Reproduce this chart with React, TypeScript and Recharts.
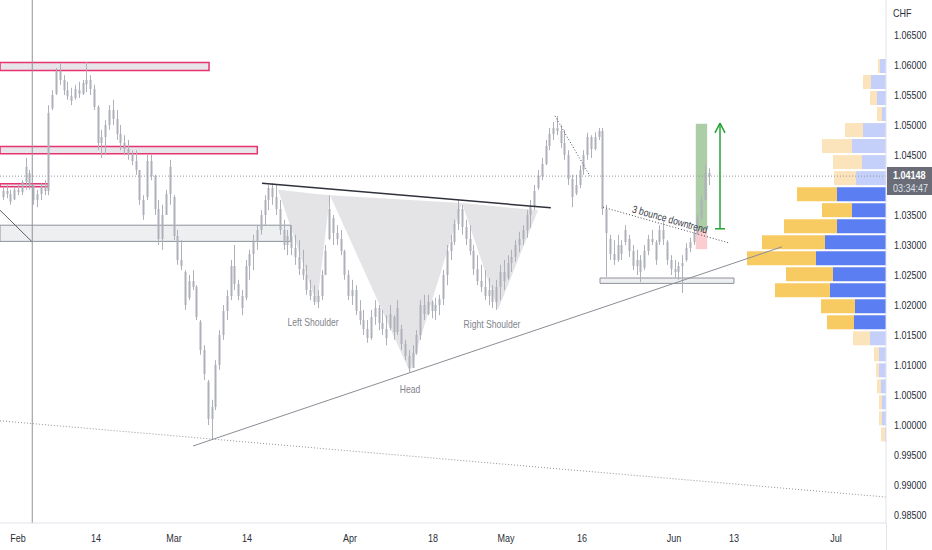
import React from "react";
import {
  ComposedChart,
  BarChart,
  Bar,
  Area,
  Scatter,
  Cell,
  XAxis,
  YAxis,
  ReferenceLine,
  ReferenceArea,
} from "recharts";

const FONT = "'Liberation Sans', Arial, sans-serif";
const SQUEEZE = 0.82; // the screenshot's text is narrow
const CANDLE = "#aeb1b9";

// x = trading days counted from Feb 1, y = EUR/CHF price
const X_MIN = -2.37;
const X_MAX = 114.36;
const Y_MIN = 0.98367;
const Y_MAX = 1.07083;
const PLOT_W = 886;
const PLOT_H = 523;

const tickDays = [0, 10.28, 20.55, 30.17, 43.74, 54.68, 64.3, 74.31, 86.43, 94.33, 107.77];
const tickLabels = ["Feb", "14", "Mar", "14", "Apr", "18", "May", "16", "Jun", "13", "Jul"];
const priceTicks = [0.985, 0.99, 0.995, 1.0, 1.005, 1.01, 1.015, 1.02, 1.025, 1.03, 1.035, 1.045, 1.05, 1.055, 1.06, 1.065];

// 12h candles, first one two days before Feb 1
const FIRST_BAR_DAY = -2;
const BAR_STEP = 0.5;

const opens = [
  1.0380, 1.0390, 1.0385, 1.0376, 1.0392, 1.0388, 1.0405, 1.0420, 1.0398, 1.0375,
  1.0385, 1.0398, 1.0390, 1.0528, 1.0552, 1.0590, 1.0575, 1.0558, 1.0548, 1.0545,
  1.0558, 1.0552, 1.0568, 1.0575, 1.0560, 1.0530, 1.0470, 1.0480, 1.0500, 1.0525,
  1.0510, 1.0485, 1.0470, 1.0460, 1.0450, 1.0440, 1.0425, 1.0375, 1.0380, 1.0440,
  1.0415, 1.0360, 1.0310, 1.0350, 1.0385, 1.0380, 1.0315, 1.0275, 1.0255, 1.0212,
  1.0240, 1.0230, 1.0172, 1.0125, 1.0072, 1.0010, 1.0030, 1.0100, 1.0150, 1.0190,
  1.0215, 1.0265, 1.0235, 1.0215, 1.0212, 1.0265, 1.0285, 1.0305, 1.0325, 1.0350,
  1.0375, 1.0395, 1.0380, 1.0360, 1.0325, 1.0300, 1.0315, 1.0295, 1.0280, 1.0260,
  1.0250, 1.0225, 1.0215, 1.0205, 1.0215, 1.0250, 1.0310, 1.0345, 1.0320, 1.0310,
  1.0290, 1.0250, 1.0215, 1.0225, 1.0190, 1.0175, 1.0160, 1.0145, 1.0180, 1.0195,
  1.0170, 1.0160, 1.0162, 1.0180, 1.0155, 1.0160, 1.0135, 1.0115, 1.0095, 1.0120,
  1.0150, 1.0200, 1.0185, 1.0205, 1.0190, 1.0200, 1.0210, 1.0250, 1.0290, 1.0305,
  1.0335, 1.0360, 1.0330, 1.0310, 1.0290, 1.0260, 1.0240, 1.0230, 1.0215, 1.0225,
  1.0205, 1.0230, 1.0255, 1.0245, 1.0270, 1.0280, 1.0300, 1.0310, 1.0325, 1.0350,
  1.0365, 1.0395, 1.0415, 1.0435, 1.0465, 1.0485, 1.0495, 1.0490, 1.0470, 1.0450,
  1.0410, 1.0386, 1.0400, 1.0425, 1.0450, 1.0480, 1.0460, 1.0480, 1.0490, 1.0360,
  1.0310, 1.0285, 1.0275, 1.0300, 1.0305, 1.0310, 1.0290, 1.0265, 1.0275, 1.0262,
  1.0290, 1.0310, 1.0305, 1.0305, 1.0325, 1.0305, 1.0275, 1.0260, 1.0255, 1.0265,
  1.0275, 1.0295, 1.0305, 1.0320, 1.0345, 1.0375, 1.0420,
];
const highs = [
  1.0395, 1.0400, 1.0392, 1.0397, 1.0400, 1.0408, 1.0445, 1.0425, 1.0400, 1.0392,
  1.0403, 1.0408, 1.0533, 1.0558, 1.0595, 1.0603, 1.0583, 1.0572, 1.0562, 1.0567,
  1.0572, 1.0575, 1.0605, 1.0583, 1.0567, 1.0533, 1.0492, 1.0508, 1.0533, 1.0542,
  1.0525, 1.0500, 1.0483, 1.0475, 1.0458, 1.0458, 1.0425, 1.0383, 1.0450, 1.0450,
  1.0417, 1.0375, 1.0367, 1.0392, 1.0442, 1.0383, 1.0325, 1.0308, 1.0258, 1.0250,
  1.0258, 1.0233, 1.0175, 1.0133, 1.0075, 1.0042, 1.0108, 1.0158, 1.0200, 1.0225,
  1.0275, 1.0300, 1.0242, 1.0225, 1.0275, 1.0292, 1.0317, 1.0333, 1.0358, 1.0383,
  1.0400, 1.0403, 1.0400, 1.0375, 1.0342, 1.0325, 1.0333, 1.0317, 1.0308, 1.0292,
  1.0267, 1.0242, 1.0233, 1.0225, 1.0258, 1.0300, 1.0383, 1.0350, 1.0333, 1.0325,
  1.0292, 1.0258, 1.0242, 1.0233, 1.0208, 1.0192, 1.0175, 1.0192, 1.0208, 1.0200,
  1.0192, 1.0183, 1.0200, 1.0183, 1.0208, 1.0167, 1.0142, 1.0125, 1.0133, 1.0158,
  1.0208, 1.0217, 1.0217, 1.0208, 1.0212, 1.0217, 1.0258, 1.0300, 1.0317, 1.0342,
  1.0375, 1.0367, 1.0342, 1.0333, 1.0300, 1.0283, 1.0267, 1.0258, 1.0245, 1.0233,
  1.0242, 1.0267, 1.0275, 1.0283, 1.0292, 1.0308, 1.0322, 1.0333, 1.0358, 1.0375,
  1.0400, 1.0425, 1.0445, 1.0475, 1.0495, 1.0505, 1.0515, 1.0500, 1.0492, 1.0458,
  1.0417, 1.0417, 1.0433, 1.0458, 1.0487, 1.0483, 1.0488, 1.0495, 1.0495, 1.0367,
  1.0317, 1.0308, 1.0317, 1.0308, 1.0333, 1.0317, 1.0300, 1.0292, 1.0283, 1.0300,
  1.0317, 1.0325, 1.0308, 1.0333, 1.0338, 1.0308, 1.0283, 1.0275, 1.0272, 1.0283,
  1.0303, 1.0312, 1.0325, 1.0350, 1.0383, 1.0433, 1.0428,
];
const lows = [
  1.0375, 1.0378, 1.0367, 1.0375, 1.0383, 1.0383, 1.0392, 1.0392, 1.0367, 1.0363,
  1.0375, 1.0383, 1.0383, 1.0525, 1.0550, 1.0567, 1.0550, 1.0542, 1.0533, 1.0542,
  1.0545, 1.0550, 1.0555, 1.0550, 1.0525, 1.0458, 1.0445, 1.0450, 1.0492, 1.0500,
  1.0475, 1.0458, 1.0450, 1.0442, 1.0433, 1.0417, 1.0367, 1.0342, 1.0375, 1.0408,
  1.0350, 1.0300, 1.0292, 1.0350, 1.0367, 1.0308, 1.0267, 1.0258, 1.0192, 1.0208,
  1.0225, 1.0175, 1.0117, 1.0075, 1.0000, 0.9975, 1.0025, 1.0092, 1.0142, 1.0175,
  1.0208, 1.0225, 1.0208, 1.0183, 1.0208, 1.0242, 1.0258, 1.0292, 1.0317, 1.0333,
  1.0358, 1.0367, 1.0350, 1.0317, 1.0292, 1.0283, 1.0283, 1.0267, 1.0250, 1.0242,
  1.0217, 1.0208, 1.0200, 1.0195, 1.0208, 1.0250, 1.0308, 1.0300, 1.0300, 1.0283,
  1.0242, 1.0208, 1.0200, 1.0183, 1.0167, 1.0150, 1.0137, 1.0142, 1.0167, 1.0158,
  1.0150, 1.0133, 1.0158, 1.0142, 1.0150, 1.0125, 1.0108, 1.0088, 1.0095, 1.0117,
  1.0142, 1.0175, 1.0183, 1.0178, 1.0175, 1.0183, 1.0200, 1.0233, 1.0275, 1.0300,
  1.0325, 1.0317, 1.0300, 1.0283, 1.0250, 1.0233, 1.0222, 1.0208, 1.0200, 1.0195,
  1.0192, 1.0208, 1.0225, 1.0242, 1.0255, 1.0272, 1.0288, 1.0300, 1.0312, 1.0328,
  1.0358, 1.0392, 1.0408, 1.0433, 1.0458, 1.0475, 1.0483, 1.0462, 1.0442, 1.0400,
  1.0363, 1.0383, 1.0395, 1.0417, 1.0442, 1.0445, 1.0458, 1.0475, 1.0350, 1.0247,
  1.0275, 1.0267, 1.0272, 1.0275, 1.0300, 1.0280, 1.0258, 1.0250, 1.0238, 1.0258,
  1.0283, 1.0300, 1.0267, 1.0300, 1.0300, 1.0267, 1.0250, 1.0245, 1.0242, 1.0220,
  1.0272, 1.0288, 1.0300, 1.0317, 1.0342, 1.0375, 1.0400,
];
const closes = [
  1.0390, 1.0385, 1.0372, 1.0392, 1.0388, 1.0405, 1.0430, 1.0398, 1.0375, 1.0385,
  1.0398, 1.0390, 1.0520, 1.0550, 1.0590, 1.0575, 1.0558, 1.0548, 1.0540, 1.0560,
  1.0552, 1.0570, 1.0575, 1.0560, 1.0530, 1.0470, 1.0480, 1.0500, 1.0525, 1.0510,
  1.0485, 1.0470, 1.0460, 1.0450, 1.0440, 1.0425, 1.0375, 1.0350, 1.0440, 1.0415,
  1.0360, 1.0310, 1.0350, 1.0385, 1.0430, 1.0315, 1.0275, 1.0265, 1.0200, 1.0240,
  1.0230, 1.0180, 1.0125, 1.0085, 1.0010, 1.0030, 1.0100, 1.0150, 1.0190, 1.0215,
  1.0265, 1.0235, 1.0215, 1.0195, 1.0265, 1.0285, 1.0305, 1.0325, 1.0350, 1.0375,
  1.0395, 1.0380, 1.0360, 1.0325, 1.0300, 1.0315, 1.0295, 1.0280, 1.0260, 1.0250,
  1.0225, 1.0215, 1.0205, 1.0215, 1.0250, 1.0290, 1.0360, 1.0320, 1.0310, 1.0290,
  1.0250, 1.0215, 1.0225, 1.0190, 1.0175, 1.0160, 1.0145, 1.0180, 1.0195, 1.0170,
  1.0160, 1.0145, 1.0185, 1.0155, 1.0195, 1.0135, 1.0115, 1.0095, 1.0120, 1.0150,
  1.0200, 1.0185, 1.0205, 1.0190, 1.0200, 1.0210, 1.0250, 1.0290, 1.0305, 1.0335,
  1.0360, 1.0330, 1.0310, 1.0290, 1.0260, 1.0240, 1.0230, 1.0215, 1.0225, 1.0205,
  1.0230, 1.0255, 1.0240, 1.0270, 1.0280, 1.0300, 1.0310, 1.0325, 1.0350, 1.0365,
  1.0390, 1.0415, 1.0435, 1.0465, 1.0485, 1.0495, 1.0490, 1.0470, 1.0450, 1.0410,
  1.0380, 1.0400, 1.0425, 1.0450, 1.0480, 1.0460, 1.0480, 1.0490, 1.0360, 1.0320,
  1.0285, 1.0275, 1.0300, 1.0285, 1.0325, 1.0290, 1.0265, 1.0275, 1.0255, 1.0290,
  1.0310, 1.0305, 1.0275, 1.0325, 1.0310, 1.0275, 1.0260, 1.0255, 1.0265, 1.0270,
  1.0295, 1.0305, 1.0320, 1.0345, 1.0375, 1.0420, 1.0415,
];

const lastPrice = 1.04148;
const countdown = "03:34:47";

// head & shoulders drawing: trough points and the neckline level above them
const hsDays = [34.26, 39.39, 41.11, 51.65, 58.5, 63.24, 68.51];
const hsLow = [1.0392, 1.02, 1.0383, 1.0088, 1.037, 1.0192, 1.0358];
const hsNeck = [1.0392, 1.0385, 1.0383, 1.0375, 1.037, 1.0364, 1.0358];

// zones: [fromDay, toDay, low, high]
const pinkZones = [
  [X_MIN, 25.17, 1.0591, 1.0604],
  [X_MIN, 31.53, 1.0452, 1.0464],
  [X_MIN, 4.0, 1.0397, 1.0402],
];
const greyZones = [
  [X_MIN, 35.93, 1.0306, 1.0333],
  [76.68, 94.33, 1.0236, 1.0245],
];
const targetBox = [89.3, 90.8, 1.0324, 1.0502];
const stopBox = [89.3, 90.8, 1.0293, 1.0324];

// trendlines: [day1, price1, day2, price2]
const neckline = [32.15, 1.0403, 70.2, 1.0362];
const risingLine = [23.06, 0.9965, 100.66, 1.0297];
const longDotted = [X_MIN, 1.0007, X_MAX, 0.988];
const bounceLine = [77.08, 1.0363, 93.8, 1.0303];
const mayDotted = [70.75, 1.0515, 75.36, 1.0415];
const febDiagonal = [X_MIN, 1.0358, 1.8, 1.0306];
const febMarkerDay = 1.88;
const arrowSegs = [
  [92.49, 1.0503, 92.49, 1.0327],
  [91.83, 1.0487, 92.49, 1.0503],
  [93.15, 1.0487, 92.49, 1.0503],
  [91.83, 1.0327, 93.15, 1.0327],
];

const noteText = ["Left Shoulder", "Head", "Right Shoulder", "3 bounce downtrend"];
const noteDay = [38.87, 51.65, 62.45, 85.9];
const notePrice = [1.0172, 1.006, 1.0168, 1.0343];
const noteAngle = [0, 0, 0, 16];

// visible range volume profile, 24 rows
const vpRowTop = [
  1.0612, 1.0585, 1.0558, 1.0532, 1.0505, 1.0478, 1.0452, 1.0425, 1.0398, 1.0372, 1.0345, 1.0318,
  1.0292, 1.0265, 1.0238, 1.0212, 1.0185, 1.0158, 1.0132, 1.0105, 1.0078, 1.0052, 1.0025, 0.9998,
];
const VP_ROW = 0.00267;
const vpUp = [6, 15, 9, 4, 23, 34, 24, 30, 49, 34, 49, 61, 70, 53, 56, 31, 32, 16, 7, 7, 5, 4, 4, 1];
const vpDown = [2, 8, 7, 5, 18, 30, 29, 22, 40, 30, 53, 63, 69, 47, 55, 34, 27, 17, 5, 3, 4, 3, 3, 4];
const VA_FIRST = 8;
const VA_LAST = 16;
const VP_WIDTH = 200;

const candles = opens.map((o, i) => ({
  t: FIRST_BAR_DAY + i * BAR_STEP,
  open: o,
  high: highs[i],
  low: lows[i],
  close: closes[i],
  range: [lows[i], highs[i]],
}));
const hsShape = hsDays.map((t, i) => ({ t, band: [hsLow[i], hsNeck[i]] }));
const notes = noteText.map((text, i) => ({ t: noteDay[i], p: notePrice[i], text, angle: noteAngle[i] }));
const vpRows = vpRowTop.map((p, i) => ({ level: p.toFixed(4), up: vpUp[i], down: vpDown[i], va: i >= VA_FIRST && i <= VA_LAST }));

const priceToY = (p: number) => ((Y_MAX - p) / (Y_MAX - Y_MIN)) * PLOT_H;

function Candle(props: any) {
  const { x, y, width, height, payload } = props;
  if (!payload || x == null) return null;
  const top = Math.min(y, y + height);
  const h = Math.abs(height);
  const k = h / (payload.high - payload.low || 1);
  const bTop = top + (payload.high - Math.max(payload.open, payload.close)) * k;
  const bBot = top + (payload.high - Math.min(payload.open, payload.close)) * k;
  const cx = Math.round(x + width / 2) + 0.5;
  return (
    <g>
      <line x1={cx} x2={cx} y1={top} y2={top + h} stroke={CANDLE} strokeWidth={1} />
      <rect x={cx - 1} y={bTop} width={2} height={Math.max(1, bBot - bTop)} fill={CANDLE} />
    </g>
  );
}

// narrow text, anchored at (x, y)
function NarrowText({ x, y, anchor, size, color, angle = 0, children }: any) {
  return (
    <g transform={`translate(${x} ${y}) rotate(${angle}) scale(${SQUEEZE} 1)`}>
      <text x={0} y={0} textAnchor={anchor} dominantBaseline="central" fontSize={size} fill={color} fontFamily={FONT}>
        {children}
      </text>
    </g>
  );
}

function DateTick(props: any) {
  const { x, y, payload } = props;
  const label = tickLabels[tickDays.indexOf(payload.value)] ?? "";
  return (
    <NarrowText x={x} y={y + 7} anchor="middle" size={11} color="#2a2e39">
      {label}
    </NarrowText>
  );
}

function PriceTick(props: any) {
  const { x, y, payload } = props;
  return (
    <NarrowText x={x} y={y} anchor="start" size={11} color="#2a2e39">
      {Number(payload.value).toFixed(5)}
    </NarrowText>
  );
}

function NoteText(props: any) {
  const { cx, cy, payload } = props;
  if (cx == null) return null;
  const bounce = payload.angle !== 0;
  return (
    <NarrowText x={cx} y={cy} anchor="middle" size={10.5} color={bounce ? "#3b3e48" : "#80838d"} angle={payload.angle}>
      {payload.text}
    </NarrowText>
  );
}

const seg = (s: number[]) => [
  { x: s[0], y: s[1] },
  { x: s[2], y: s[3] },
];

export default function App() {
  const vpTop = priceToY(vpRowTop[0]);
  const vpBottom = priceToY(vpRowTop[vpRowTop.length - 1] - VP_ROW);
  const lastY = priceToY(lastPrice);
  const narrow = { transform: `scaleX(${SQUEEZE})`, transformOrigin: "left center", whiteSpace: "nowrap" as const };

  return (
    <div style={{ position: "relative", width: 932, height: 550, background: "#ffffff", overflow: "hidden", fontFamily: FONT }}>
      <style>{"body{margin:0}"}</style>

      <div style={{ position: "absolute", left: PLOT_W - VP_WIDTH, top: vpTop, width: VP_WIDTH, height: vpBottom - vpTop }}>
        <BarChart
          width={VP_WIDTH}
          height={vpBottom - vpTop}
          data={vpRows}
          layout="vertical"
          margin={{ top: 0, right: 0, bottom: 0, left: 0 }}
          barCategoryGap={1}
        >
          <XAxis type="number" domain={[0, VP_WIDTH]} reversed hide />
          <YAxis type="category" dataKey="level" hide />
          <Bar dataKey="up" stackId="vp" isAnimationActive={false}>
            {vpRows.map((r, i) => (
              <Cell key={i} fill={r.va ? "#5b7ef3" : "#c5d0fa"} />
            ))}
          </Bar>
          <Bar dataKey="down" stackId="vp" isAnimationActive={false}>
            {vpRows.map((r, i) => (
              <Cell key={i} fill={r.va ? "#f8cb62" : "#fbe4bb"} />
            ))}
          </Bar>
        </BarChart>
      </div>

      <div style={{ position: "absolute", left: 0, top: 0 }}>
        <ComposedChart width={932} height={550} data={candles} margin={{ top: 0, right: 0, bottom: 0, left: 0 }}>
          <XAxis
            dataKey="t"
            type="number"
            domain={[X_MIN, X_MAX]}
            allowDataOverflow
            ticks={tickDays}
            height={27}
            tickLine={false}
            axisLine={{ stroke: "#e0e3eb" }}
            tick={<DateTick />}
          />
          <YAxis
            orientation="right"
            type="number"
            domain={[Y_MIN, Y_MAX]}
            allowDataOverflow
            ticks={priceTicks}
            width={46}
            tickLine={false}
            axisLine={{ stroke: "#e0e3eb" }}
            tick={<PriceTick />}
            tickMargin={2}
          />

          {pinkZones.map((z, i) => (
            <ReferenceArea key={"pz" + i} x1={z[0]} x2={z[1]} y1={z[2]} y2={z[3]} fill="#e6e6ea" fillOpacity={1} stroke="#e8336e" strokeWidth={1.5} ifOverflow="hidden" />
          ))}
          {greyZones.map((z, i) => (
            <ReferenceArea key={"gz" + i} x1={z[0]} x2={z[1]} y1={z[2]} y2={z[3]} fill="#eeeff1" fillOpacity={1} stroke="#8f929b" strokeWidth={1} ifOverflow="hidden" />
          ))}

          <ReferenceLine x={febMarkerDay} stroke="#8f929b" strokeWidth={1} />
          <ReferenceLine y={lastPrice} stroke="#9598a1" strokeDasharray="1 2" />
          <ReferenceLine segment={seg(longDotted)} stroke="#8f929b" strokeDasharray="1 2" ifOverflow="hidden" />

          <Bar dataKey="range" barSize={2} shape={<Candle />} isAnimationActive={false} />

          <Area
            data={hsShape}
            dataKey="band"
            type="linear"
            stroke="none"
            fill="#9598a1"
            fillOpacity={0.26}
            dot={false}
            activeDot={false}
            isAnimationActive={false}
          />

          <ReferenceArea x1={targetBox[0]} x2={targetBox[1]} y1={targetBox[2]} y2={targetBox[3]} fill="#5c9c50" fillOpacity={0.5} stroke="none" />
          <ReferenceArea x1={stopBox[0]} x2={stopBox[1]} y1={stopBox[2]} y2={stopBox[3]} fill="#f05a64" fillOpacity={0.3} stroke="none" />

          <ReferenceLine segment={seg(neckline)} stroke="#2f323c" strokeWidth={1.5} ifOverflow="hidden" />
          <ReferenceLine segment={seg(risingLine)} stroke="#8a8d96" strokeWidth={1} ifOverflow="hidden" />
          <ReferenceLine segment={seg(bounceLine)} stroke="#4a4d57" strokeDasharray="1 2" ifOverflow="hidden" />
          <ReferenceLine segment={seg(mayDotted)} stroke="#4a4d57" strokeDasharray="1 2" ifOverflow="hidden" />
          <ReferenceLine segment={seg(febDiagonal)} stroke="#5d606b" strokeWidth={1} ifOverflow="hidden" />
          {arrowSegs.map((s, i) => (
            <ReferenceLine key={"ar" + i} segment={seg(s)} stroke="#24a338" strokeWidth={1.5} ifOverflow="hidden" />
          ))}

          <Scatter data={notes} dataKey="p" shape={<NoteText />} isAnimationActive={false} />
        </ComposedChart>
      </div>

      <div style={{ position: "absolute", left: PLOT_W, top: PLOT_H, width: 1, height: 550 - PLOT_H, background: "#e0e3eb" }} />
      <div style={{ position: "absolute", left: 893, top: 7, fontSize: 11, lineHeight: "13px", color: "#2a2e39", ...narrow }}>CHF</div>
      <div
        style={{
          position: "absolute",
          left: PLOT_W + 1,
          top: lastY - 9,
          width: 45,
          height: 28,
          background: "#6a6d78",
          color: "#ffffff",
          fontSize: 11,
          lineHeight: "13px",
          paddingTop: 2,
          paddingLeft: 6,
          boxSizing: "border-box",
        }}
      >
        <div style={{ fontWeight: 600, ...narrow }}>{lastPrice.toFixed(5)}</div>
        <div style={{ color: "#dfe1e8", ...narrow }}>{countdown}</div>
      </div>
    </div>
  );
}
